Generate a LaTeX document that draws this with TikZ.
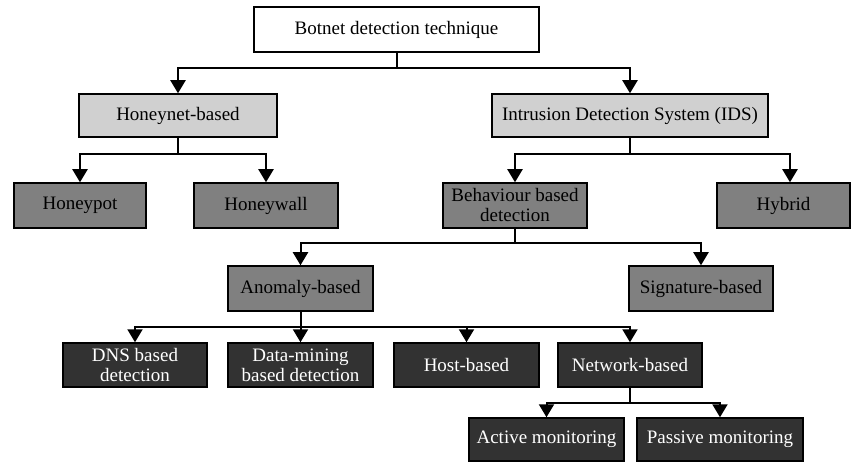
\documentclass[tikz,border=0pt]{standalone}
\usepackage{fontspec}
\setmainfont{Liberation Serif}
\usetikzlibrary{arrows.meta}
\definecolor{lightbox}{RGB}{208,208,208}
\definecolor{midbox}{RGB}{128,128,128}
\definecolor{darkbox}{RGB}{50,50,50}
\tikzset{
%Define standard arrow tip
>={Triangle[width=15pt,length=13pt]},
%Define styles for the boxes and the connections
tree box/.style={draw, line width=1.5pt, inner sep=1pt, align=center,
font=\fontsize{19}{20}\selectfont}, root box/.style={tree box, fill=white},
light box/.style={tree box, fill=lightbox}, mid box/.style={tree box,
fill=midbox}, dark box/.style={tree box, fill=darkbox, text=white},
connection/.style={line width=2pt}, }
\begin{document}
\begin{tikzpicture}[x=1pt,y=-1pt]

\useasboundingbox (0,0) rectangle (851,462);

% levels of the horizontal bars
\path coordinate (bar1) at (0,68) coordinate (bar2) at (0,154)
coordinate (bar3) at (0,243) coordinate (bar4) at (0,327)
coordinate (bar5) at (0,403);

\node[root box, minimum width=285pt, minimum height=45pt] (root) at
(396.5,29.5) {Botnet detection technique};

\node[light box, minimum width=198pt, minimum height=43pt] (honeynet)
at (178,115.5) {Honeynet-based};
\node[light box, minimum width=276pt, minimum height=43pt] (ids) at
(630,115.5) {Intrusion Detection System (IDS)};

\node[mid box, minimum width=132pt, minimum height=45pt] (honeypot) at
(80,205.5) {Honeypot};
\node[mid box, minimum width=144pt, minimum height=45pt] (honeywall) at
(266,205.5) {Honeywall};
\node[mid box, minimum width=144pt, minimum height=45pt] (behaviour) at
(515,205.5) {Behaviour based\\detection};
\node[mid box, minimum width=133pt, minimum height=45pt] (hybrid) at
(783.5,205.5) {Hybrid};

\node[mid box, minimum width=145pt, minimum height=45pt] (anomaly) at
(300.5,288.5) {Anomaly-based};
\node[mid box, minimum width=144pt, minimum height=45pt] (signature)
at (701,288.5) {Signature-based};

\node[dark box, minimum width=144pt, minimum height=44pt] (dns) at
(135,365) {DNS based\\detection};
\node[dark box, minimum width=145pt, minimum height=44pt] (datamining)
at (300.5,365) {Data-mining\\based detection};
\node[dark box, minimum width=145pt, minimum height=44pt] (host) at
(466.5,365) {Host-based};
\node[dark box, minimum width=144pt, minimum height=44pt] (network) at
(630,365) {Network-based};

\node[dark box, minimum width=155pt, minimum height=43pt] (active) at
(546.5,439.5) {Active monitoring};
\node[dark box, minimum width=166pt, minimum height=43pt] (passive) at
(720,439.5) {Passive monitoring};

% connections
\draw[connection] (root.south) -- (root.south |- bar1);
\draw[connection, <->] (honeynet.north) |- (root.south |- bar1) -|
(ids.north);

\draw[connection] (honeynet.south) -- (honeynet.south |- bar2);
\draw[connection, <->] (honeypot.north) |- (honeynet.south |- bar2) -|
(honeywall.north);

\draw[connection] (ids.south) -- (ids.south |- bar2);
\draw[connection, <->] (behaviour.north) |- (ids.south |- bar2) -|
([xshift=6.5pt]hybrid.north);

\draw[connection] (behaviour.south) -- (behaviour.south |- bar3);
\draw[connection, <->] (anomaly.north) |- (behaviour.south |- bar3) -|
(signature.north);

\draw[connection, ->] (anomaly.south) -- (datamining.north);
\draw[connection, <->] (dns.north) |- (anomaly.south |- bar4) -|
(network.north);
\draw[connection, ->] (host.north |- bar4) -- (host.north);

\draw[connection] (network.south) -- (network.south |- bar5);
\draw[connection, <->] (active.north) |- (network.south |- bar5) -|
(passive.north);

\end{tikzpicture}
\end{document}
